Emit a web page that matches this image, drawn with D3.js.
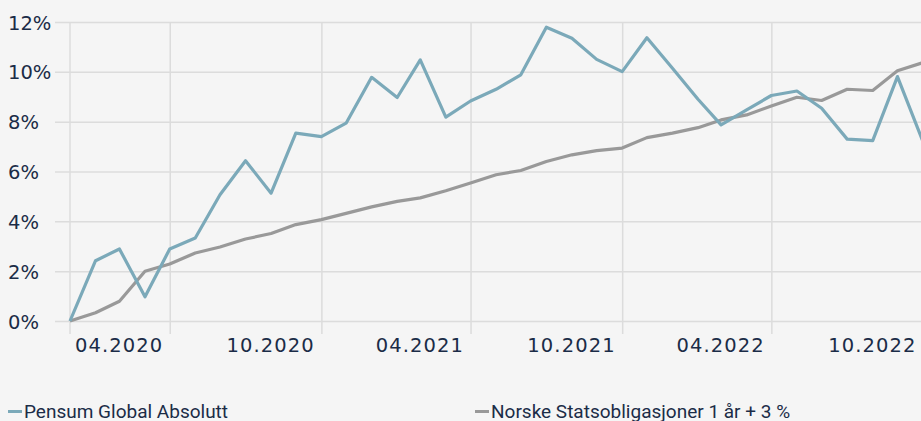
<!DOCTYPE html>
<html>
<head>
<meta charset="utf-8">
<title>Pensum Global Absolutt</title>
<style>
  body { margin: 0; background: #f5f5f5; }
  svg { display: block; }
</style>
</head>
<body>
<script src="https://d3js.org/d3.v7.min.js"></script>
<div id="chart"></div>
<script>

// month-end dates, one per point
var dates = [
  "2019-12-31",
  "2020-01-31", "2020-02-29", "2020-03-31", "2020-04-30", "2020-05-31", "2020-06-30",
  "2020-07-31", "2020-08-31", "2020-09-30", "2020-10-31", "2020-11-30", "2020-12-31",
  "2021-01-31", "2021-02-28", "2021-03-31", "2021-04-30", "2021-05-31", "2021-06-30",
  "2021-07-31", "2021-08-31", "2021-09-30", "2021-10-31", "2021-11-30", "2021-12-31",
  "2022-01-31", "2022-02-28", "2022-03-31", "2022-04-30", "2022-05-31", "2022-06-30",
  "2022-07-31", "2022-08-31", "2022-09-30", "2022-10-31"
]

// cumulative return, %
var pensum = [0, 2.42, 2.89, 0.97, 2.89, 3.33, 5.07, 6.43, 5.13, 7.54, 7.40, 7.94, 9.78,
  8.97, 10.48, 8.18, 8.83, 9.30, 9.88, 11.79, 11.35, 10.50, 10.01, 11.37, 10.14,
  8.90, 7.87, 8.47, 9.05, 9.23, 8.54, 7.30, 7.24, 9.81, 7.2]
var norske = [0, 0.33, 0.79, 2.0, 2.29, 2.73, 2.97, 3.29, 3.51, 3.87, 4.07, 4.32, 4.58,
  4.80, 4.94, 5.23, 5.54, 5.87, 6.04, 6.40, 6.67, 6.84, 6.94, 7.36, 7.54,
  7.76, 8.07, 8.27, 8.63, 8.98, 8.85, 9.30, 9.25, 10.04, 10.37]

var seriesNames = ["Pensum Global Absolutt", "Norske Statsobligasjoner 1 år + 3 %"]
var yTicks = [0, 2, 4, 6, 8, 10, 12]
var xTicks = ["2020-04-30", "2020-10-31", "2021-04-30", "2021-10-31", "2022-04-30", "2022-10-31"]

var width = 921,
    height = 421
var colors = ["#7ba9b9", "#999999"]
var textColor = "#1b2c47"

var parse = d3.timeParse("%Y-%m-%d")
var dateObjs = dates.map(parse)

var svg = d3.select("#chart")
  .append("svg")
    .attr("width", width)
    .attr("height", height)
    .style("background", "#f5f5f5")

var x = d3.scaleTime()
  .domain(d3.extent(dateObjs))
  .range([70, 923])

var y = d3.scaleLinear()
  .domain([0, 12])
  .range([321, 22])

// horizontal grid + y labels
var yAxis = svg.append("g")
  .attr("transform", "translate(55,0)")
  .call(d3.axisLeft(y)
    .tickValues(yTicks)
    .tickSize(-(width - 55))
    .tickFormat(function(d) { return d + "%" }))
yAxis.select(".domain").remove()
yAxis.selectAll("line")
  .attr("stroke", "#dcdcdc")
  .attr("stroke-width", 1.5)
yAxis.selectAll("text")
  .attr("x", -47)
  .attr("dy", "0.36em")
  .style("text-anchor", "start")
  .style("font-family", "DejaVu Sans")
  .style("font-size", "19.5px")
  .attr("fill", textColor)

// vertical grid + date labels
var xAxis = svg.append("g")
  .attr("transform", "translate(0,334)")
  .call(d3.axisBottom(x)
    .tickValues(xTicks.map(parse))
    .tickSize(-312)
    .tickFormat(d3.timeFormat("%m.%Y")))
xAxis.select(".domain").remove()
xAxis.selectAll("line")
  .attr("stroke", "#dcdcdc")
  .attr("stroke-width", 1.5)
xAxis.selectAll("text")
  .attr("x", -7)
  .attr("y", 18)
  .attr("dy", 0)
  .style("text-anchor", "end")
  .style("font-family", "DejaVu Sans")
  .style("font-size", "19.5px")
  .style("letter-spacing", "1.1px")
  .attr("fill", textColor)

// left edge line of the plot
svg.append("line")
  .attr("x1", x(dateObjs[0])).attr("x2", x(dateObjs[0]))
  .attr("y1", 22).attr("y2", 334)
  .attr("stroke", "#dcdcdc")
  .attr("stroke-width", 1.5)

var line = d3.line()
  .x(function(d, i) { return x(dateObjs[i]) })
  .y(function(d) { return y(d) })

svg.selectAll(".series")
  .data([norske, pensum])
  .enter()
  .append("path")
    .attr("d", line)
    .attr("fill", "none")
    .attr("stroke", function(d, i) { return i == 0 ? colors[1] : colors[0] })
    .attr("stroke-width", 3.2)
    .attr("stroke-linejoin", "round")

// legend
var legendX = [8, 475]
var legend = svg.selectAll(".legend")
  .data(seriesNames)
  .enter()
  .append("g")
    .attr("transform", function(d, i) { return "translate(" + legendX[i] + ",0)" })
legend.append("rect")
  .attr("x", 0).attr("y", 410)
  .attr("width", 14).attr("height", 3)
  .attr("fill", function(d, i) { return colors[i] })
legend.append("text")
  .attr("x", 16)
  .attr("y", 418)
  .text(function(d) { return d })
  .style("font-family", "Roboto")
  .style("font-size", "19px")
  .attr("fill", textColor)

</script>
</body>
</html>
